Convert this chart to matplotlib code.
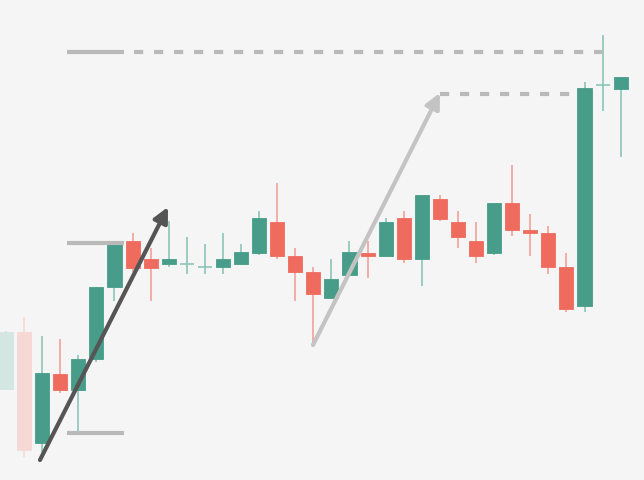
import numpy as np
import matplotlib.pyplot as plt

# OHLC (arbitrary price units)
opens  = [91, 148, 37, 106, 90, 121, 193, 239, 221, 216, 216, 213, 213, 216, 227, 258, 224, 208,
          182, 205, 227, 224, 262, 221, 281, 258, 239, 227, 277, 250, 247, 213, 174, 395, 391]
highs  = [149, 163, 144, 141, 125, 193, 239, 247, 232, 259, 243, 236, 247, 236, 269, 297, 232, 213,
          221, 239, 239, 262, 269, 285, 285, 269, 258, 277, 315, 266, 254, 227, 398, 445, 403]
lows   = [91, 23, 23, 87, 48, 118, 179, 208, 179, 213, 206, 206, 206, 216, 225, 221, 179, 137,
          182, 205, 202, 224, 217, 194, 259, 232, 217, 225, 244, 224, 206, 168, 168, 369, 323]
closes = [148, 30, 107, 90, 121, 193, 236, 212, 212, 221, 216, 213, 221, 228, 262, 224, 208, 186,
          201, 228, 224, 258, 221, 285, 261, 243, 224, 277, 250, 247, 213, 171, 392, 395, 403]
faded = [0, 1]  # first two candles are washed out

# annotation levels
arrow_dark = [(1.88, 20), (8.96, 273)]
arrow_light = [(16.98, 135), (24.0, 387)]
low_level = 47
mid_level = 237
top_level = 428
target_level = 386

green = "#479d89"
red = "#ef6b5e"
green_w = "#8cc5b8"
red_w = "#f1a198"
green_f = "#d3e6e1"
red_f = "#f6d9d5"

fig = plt.figure(figsize=(6.44, 4.8), dpi=100)
fig.patch.set_facecolor("#f5f5f5")
ax = fig.add_axes([0, 0, 1, 1])
ax.set_facecolor("#f5f5f5")

x = np.arange(len(opens))
w = 0.78
for i in x:
    o, h, l, c = opens[i], highs[i], lows[i], closes[i]
    up = c >= o
    if i in faded:
        col = green_f if up else red_f
        wc = col
    else:
        col = green if up else red
        wc = green_w if up else red_w
    ax.vlines(i, l, h, color=wc, lw=1.2, zorder=1)
    if abs(c - o) < 1:
        ax.hlines(o, i - w / 2, i + w / 2, color=green_w, lw=1.2, zorder=2)
    else:
        ax.bar(i, max(abs(c - o), 3), bottom=min(o, c), width=w, color=col,
               edgecolor=col, lw=0.6, zorder=2)

# reference levels
gray = "#b9b9b9"
ax.hlines([low_level, mid_level, top_level], 3.37, 6.55, color=gray, lw=3, zorder=3)
ax.plot([7.08, 33.0], [top_level, top_level], color=gray, lw=3,
        linestyle=(0, (2.2, 2.6)), zorder=3)
ax.plot([24.0, 31.6], [target_level, target_level], color=gray, lw=3,
        linestyle=(0, (2.2, 2.6)), zorder=3)

# trend arrows
ax.annotate("", xy=arrow_dark[1], xytext=arrow_dark[0],
            arrowprops=dict(arrowstyle="-|>,head_length=0.9,head_width=0.45",
                            color="#555555", lw=3, shrinkA=0, shrinkB=0), zorder=4)
ax.annotate("", xy=arrow_light[1], xytext=arrow_light[0],
            arrowprops=dict(arrowstyle="-|>,head_length=0.9,head_width=0.45",
                            color="#c3c3c3", lw=3, shrinkA=0, shrinkB=0), zorder=4)

ax.set_xlim(-0.332, 35.29)
ax.set_ylim(0, 480)
ax.axis("off")

fig.savefig("out.png", dpi=100, facecolor=fig.get_facecolor())
